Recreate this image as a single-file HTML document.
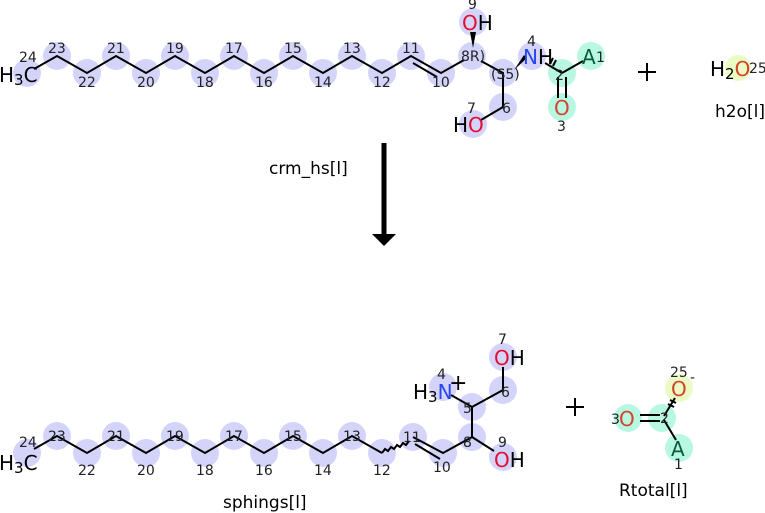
<!DOCTYPE html>
<html><head><meta charset="utf-8"><style>body{margin:0;background:#fff}svg{display:block}text{font-family:"DejaVu Sans","Liberation Sans",sans-serif}</style></head><body>
<svg width="765" height="513" viewBox="0 0 765 513" xmlns="http://www.w3.org/2000/svg">
<g fill="#d4d4fb">
<circle cx="27" cy="73" r="14"/><circle cx="57" cy="56" r="14"/><circle cx="87" cy="73" r="14"/><circle cx="116" cy="56" r="14"/><circle cx="146" cy="73" r="14"/><circle cx="175" cy="56" r="14"/><circle cx="205" cy="73" r="14"/><circle cx="234" cy="56" r="14"/><circle cx="264" cy="73" r="14"/><circle cx="293" cy="56" r="14"/><circle cx="323" cy="73" r="14"/><circle cx="352" cy="56" r="14"/><circle cx="382" cy="73" r="14"/><circle cx="411" cy="56" r="14"/><circle cx="441" cy="73" r="14"/><circle cx="472" cy="56" r="14"/><circle cx="503" cy="73" r="14"/><circle cx="532" cy="56" r="14"/><circle cx="503" cy="107" r="14"/><circle cx="473" cy="124" r="14"/><circle cx="473" cy="22" r="14"/>
<circle cx="27" cy="453" r="14"/><circle cx="57" cy="436" r="14"/><circle cx="87" cy="453" r="14"/><circle cx="116" cy="436" r="14"/><circle cx="146" cy="453" r="14"/><circle cx="175" cy="436" r="14"/><circle cx="205" cy="453" r="14"/><circle cx="234" cy="436" r="14"/><circle cx="264" cy="453" r="14"/><circle cx="293" cy="436" r="14"/><circle cx="323" cy="453" r="14"/><circle cx="352" cy="436" r="14"/><circle cx="382" cy="453" r="14"/><circle cx="413" cy="437" r="14"/><circle cx="443" cy="453" r="14"/><circle cx="472" cy="437" r="14"/><circle cx="472" cy="407" r="14"/><circle cx="443" cy="387" r="14"/><circle cx="503" cy="390" r="14"/><circle cx="503" cy="357" r="14"/><circle cx="503" cy="457" r="14"/>
</g>
<g fill="#b8f7e2"><circle cx="562" cy="73" r="14"/><circle cx="591" cy="56" r="14"/><circle cx="562" cy="107" r="14"/><circle cx="628" cy="418" r="14"/><circle cx="662" cy="418" r="14"/><circle cx="679" cy="448" r="14"/></g>
<g fill="#eafbc4"><circle cx="679" cy="388" r="14"/><circle cx="738" cy="68" r="13"/></g>
<g stroke="#000" stroke-width="2" fill="none">
<polyline points="34,69 57,56 87,73 116,56 146,73 175,56 205,73 234,56 264,73 293,56 323,73 352,56 382,73 411,56 441,73 464,60"/>
<line x1="413" y1="63" x2="437" y2="77"/>
<polyline points="481,61 503,73 503,107 481,120"/>
<line x1="545" y1="63" x2="562" y2="73"/><line x1="562" y1="73" x2="583" y2="61"/>
<line x1="558" y1="77" x2="558" y2="98"/><line x1="566" y1="77" x2="566" y2="98"/>
<line x1="550" y1="64" x2="553" y2="58"/><line x1="553" y1="66" x2="556" y2="60"/>
<polyline points="34,449 57,436 87,453 116,436 146,453 175,436 205,453 234,436 264,453 293,436 323,453 352,436 382,453"/>
<path d="M382,453 l3,-4 l3,2 l3,-4 l3,2 l3,-4 l3,2 l3,-4 l3,2 l3,-4"/>
<polyline points="413,437 443,453 472,437 472,407 451,395"/>
<line x1="415" y1="444" x2="440" y2="459"/>
<line x1="472" y1="437" x2="494" y2="451"/>
<polyline points="472,407 503,390 503,367"/>
<line x1="640" y1="415" x2="660" y2="415"/><line x1="640" y1="421" x2="660" y2="421"/>
<line x1="664" y1="416" x2="675" y2="398"/><line x1="664" y1="420" x2="676" y2="440"/>
<line x1="668" y1="404" x2="674" y2="407"/><line x1="670" y1="400" x2="676" y2="403"/>
<line x1="384" y1="143" x2="384" y2="236" stroke-width="5"/>
<line x1="638" y1="72" x2="656" y2="72"/><line x1="647" y1="63" x2="647" y2="81"/>
<line x1="566" y1="407" x2="584" y2="407"/><line x1="575" y1="398" x2="575" y2="416"/>
</g>
<polygon points="372,234 396,234 384,246" fill="#000"/>
<polygon points="470,32 476,32 473,48" fill="#000"/>
<polygon points="514,70 527,58 524,55" fill="#000"/>
<g font-size="20" fill="#000">
<text x="-1" y="82">H<tspan font-size="15" dy="3">3</tspan><tspan dy="-3">C</tspan></text>
<text x="462" y="30"><tspan fill="#e0102f">O</tspan>H</text>
<text x="523" y="64"><tspan fill="#2746f0">N</tspan>H</text>
<text x="582" y="64" fill="#0c5a3c">A</text>
<text x="554" y="115" fill="#d5432a">O</text>
<text x="453" y="132">H<tspan fill="#e0102f">O</tspan></text>
<text x="710" y="76">H<tspan font-size="15" dy="3">2</tspan><tspan dy="-3" fill="#d5432a">O</tspan></text>
<text x="-1" y="470">H<tspan font-size="15" dy="3">3</tspan><tspan dy="-3">C</tspan></text>
<text x="413" y="399">H<tspan font-size="15" dy="3">3</tspan><tspan dy="-3" fill="#2746f0">N</tspan></text>
<text x="449" y="390" font-size="22">+</text>
<text x="494" y="365"><tspan fill="#e0102f">O</tspan>H</text>
<text x="494" y="467"><tspan fill="#e0102f">O</tspan>H</text>
<text x="619" y="426" fill="#d5432a">O</text>
<text x="671" y="396" fill="#d5432a">O</text>
<text x="671" y="456" fill="#0c5a3c">A</text>
</g>
<g font-size="14" fill="#222">
<text x="19" y="62">24</text><text x="48" y="53">23</text><text x="78" y="87">22</text><text x="107" y="53">21</text><text x="137" y="87">20</text><text x="166" y="53">19</text><text x="196" y="87">18</text><text x="225" y="53">17</text><text x="255" y="87">16</text><text x="284" y="53">15</text><text x="314" y="87">14</text><text x="343" y="53">13</text><text x="373" y="87">12</text><text x="402" y="53">11</text><text x="432" y="87">10</text>
<text x="461" y="61">8R)</text><text x="491" y="79">(S5)</text><text x="468" y="9">9</text><text x="527" y="46">4</text><text x="555" y="80">2</text><text x="596" y="62">1</text><text x="557" y="131">3</text><text x="502" y="113">6</text><text x="467" y="113">7</text><text x="749" y="73">25</text>
<text x="19" y="447">24</text><text x="48" y="441">23</text><text x="78" y="475">22</text><text x="107" y="441">21</text><text x="137" y="475">20</text><text x="166" y="441">19</text><text x="196" y="475">18</text><text x="225" y="441">17</text><text x="255" y="475">16</text><text x="284" y="441">15</text><text x="314" y="475">14</text><text x="343" y="441">13</text><text x="373" y="475">12</text><text x="403" y="442">11</text><text x="433" y="472">10</text>
<text x="463" y="447">8</text><text x="463" y="413">5</text><text x="437" y="379">4</text><text x="501" y="397">6</text><text x="498" y="344">7</text><text x="498" y="447">9</text>
<text x="611" y="424">3</text><text x="660" y="423">2</text><text x="670" y="377">25</text><text x="690" y="382">-</text><text x="674" y="469">1</text>
</g>
<g font-size="17" fill="#000">
<text x="269" y="174">crm_hs[l]</text>
<text x="715" y="117">h2o[l]</text>
<text x="223" y="508">sphings[l]</text>
<text x="619" y="496">Rtotal[l]</text>
</g>
</svg>
</body></html>
